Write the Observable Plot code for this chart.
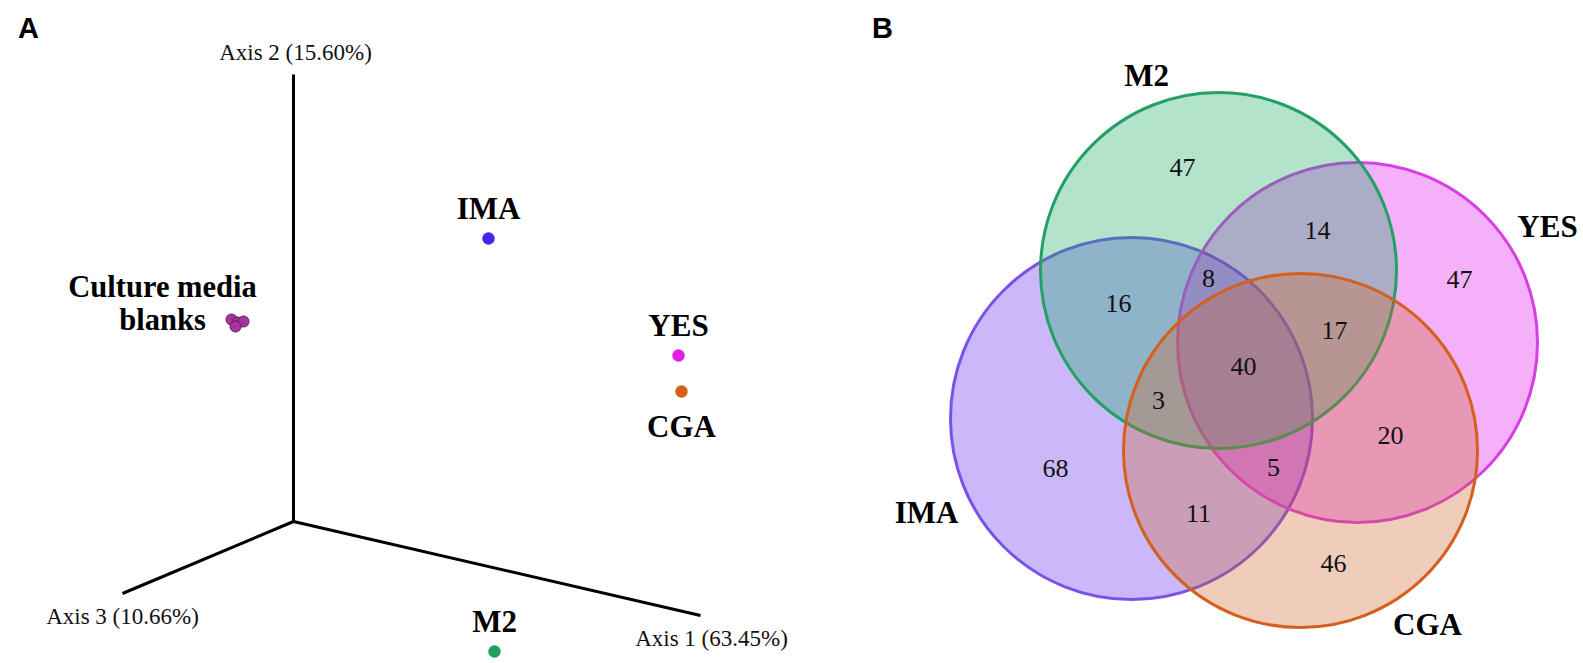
<!DOCTYPE html>
<html>
<head>
<meta charset="utf-8">
<script src="https://cdn.jsdelivr.net/npm/d3@7"></script>
<script src="https://cdn.jsdelivr.net/npm/@observablehq/plot@0.6"></script>
<style>
  html, body { margin: 0; padding: 0; background: #fff; }
</style>
</head>
<body>
<div id="chart"></div>
<script>
// ---------- Panel A : ordination (3-axis projection) ----------
const axisNames  = ["Axis 1 (63.45%)", "Axis 2 (15.60%)", "Axis 3 (10.66%)"];
const axisOrigin = [293, 521];
const axisEndX   = [700, 293, 122];
const axisEndY   = [615, 74, 593];
const axisLabelX = [711, 295, 122];
const axisLabelY = [638, 52, 616];

const samples  = ["IMA", "YES", "CGA", "M2"];
const sampleX  = [488, 678, 681, 494];
const sampleY  = [238, 355, 391, 651];
const labelAbove = [true, true, false, true];

const blanksName = "Culture media\nblanks";
const blankX = [231, 237, 243, 235];
const blankY = [319, 322, 321, 326];
const blanksLabelX = 162;
const blanksLabelY = 302;

// ---------- Panel B : Venn diagram ----------
const vennSets   = ["IMA", "M2", "YES", "CGA"];
const vennCX     = [1131, 1218, 1357, 1300];
const vennCY     = [418, 270, 342, 450];
const vennR      = [181, 178, 180, 177];
const vennLabelX = [926, 1146, 1547, 1427];
const vennLabelY = [513, 76, 227, 625];

const regionCounts = [47, 16, 8, 14, 47, 17, 40, 3, 20, 5, 68, 11, 46];
const regionX = [1182, 1118, 1208, 1317, 1459, 1334, 1243, 1158, 1390, 1273, 1055, 1198, 1333];
const regionY = [167, 303, 278, 230, 279, 330, 366, 400, 435, 467, 468, 513, 563];

const panelNames = ["A", "B"];
const panelX = [28, 882];
const panelY = [28, 28];

// ---------- colours ----------
const pointColor = {IMA: "#4b22ee", YES: "#e01fe6", CGA: "#d4601e", M2: "#1fa060"};
const vennFill   = {IMA: "#5d21f3", M2: "#12a85d", YES: "#dd08e9", CGA: "#d06327"};
const vennStroke = {IMA: "#7a52e8", M2: "#22a066", YES: "#d93de6", CGA: "#d4601e"};

// ---------- tables ----------
const axes = axisNames.map((name, i) => ({
  name, x1: axisOrigin[0], y1: axisOrigin[1], x2: axisEndX[i], y2: axisEndY[i],
  lx: axisLabelX[i], ly: axisLabelY[i]
}));
const pts = samples.map((name, i) => ({name, x: sampleX[i], y: sampleY[i], above: labelAbove[i]}));
const blanks = blankX.map((x, i) => ({x, y: blankY[i]}));
const circles = vennSets.map((name, i) => ({
  name, x: vennCX[i], y: vennCY[i], r: vennR[i], lx: vennLabelX[i], ly: vennLabelY[i]
}));
const regions = regionCounts.map((v, i) => ({v, x: regionX[i], y: regionY[i]}));
const panels = panelNames.map((t, i) => ({t, x: panelX[i], y: panelY[i]}));

const serif = "'Liberation Serif', 'Times New Roman', serif";
const sans = "'Liberation Sans', Arial, sans-serif";

const chart = Plot.plot({
  width: 1583,
  height: 663,
  margin: 0,
  x: {type: "linear", domain: [0, 1583], range: [0, 1583], axis: null},
  y: {type: "linear", domain: [0, 663], range: [0, 663], axis: null},
  r: {type: "identity"},
  color: {type: "identity"},
  style: {background: "#fff", overflow: "visible"},
  marks: [
    // panel labels
    Plot.text(panels, {x: "x", y: "y", text: "t", fontFamily: sans, fontWeight: "bold", fontSize: 29, fill: "#000"}),

    // Panel A axes
    Plot.link(axes, {x1: "x1", y1: "y1", x2: "x2", y2: "y2", stroke: "#000", strokeWidth: 3, strokeLinecap: "butt"}),
    Plot.text(axes, {x: "lx", y: "ly", text: "name", fontFamily: serif, fontSize: 23, fill: "#111"}),

    // samples
    Plot.dot(pts, {x: "x", y: "y", r: 6, fill: d => pointColor[d.name], stroke: d => pointColor[d.name], strokeWidth: 0.5}),
    Plot.text(pts.filter(d => d.above), {x: "x", y: "y", dy: -29, text: "name", fontFamily: serif, fontWeight: "bold", fontSize: 31, fill: "#000"}),
    Plot.text(pts.filter(d => !d.above), {x: "x", y: "y", dy: 36, text: "name", fontFamily: serif, fontWeight: "bold", fontSize: 31, fill: "#000"}),

    // culture media blanks
    Plot.dot(blanks, {x: "x", y: "y", r: 5.5, fill: "#a8329f", stroke: "#5e1a5c", strokeWidth: 1}),
    Plot.text([blanksName], {x: () => blanksLabelX, y: () => blanksLabelY, text: d => d, lineHeight: 1.08, fontFamily: serif, fontWeight: "bold", fontSize: 30.5, fill: "#000"}),

    // Panel B Venn
    Plot.dot(circles, {x: "x", y: "y", r: "r", fill: d => vennFill[d.name], fillOpacity: 0.32, stroke: d => vennStroke[d.name], strokeWidth: 3}),
    Plot.text(regions, {x: "x", y: "y", text: d => String(d.v), fontFamily: serif, fontSize: 26, fill: "#111"}),
    Plot.text(circles, {x: "lx", y: "ly", text: "name", fontFamily: serif, fontWeight: "bold", fontSize: 31, fill: "#000"})
  ]
});

document.getElementById("chart").appendChild(chart);
</script>
</body>
</html>
